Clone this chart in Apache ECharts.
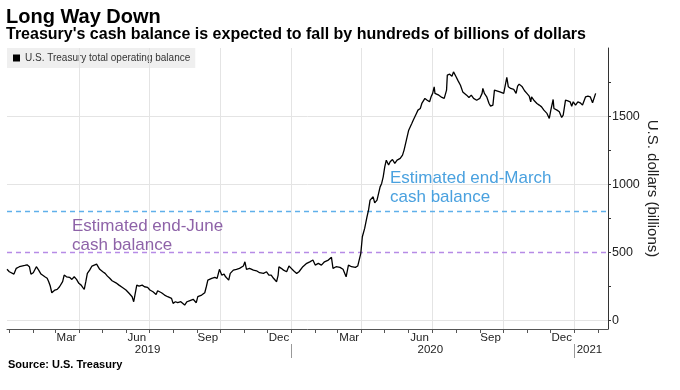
<!DOCTYPE html>
<html><head><meta charset="utf-8">
<script src="https://cdn.jsdelivr.net/npm/echarts@6/dist/echarts.min.js"></script>
<style>html,body{margin:0;padding:0;background:#fff}#c{width:680px;height:390px}</style>
</head><body><div id="c"></div>
<script>
// ---- data ----
const dates = [
'2018-12-29','2019-01-01','2019-01-03','2019-01-07','2019-01-10','2019-01-14','2019-01-17','2019-01-21','2019-01-24','2019-01-27',
'2019-01-29','2019-02-01','2019-02-03','2019-02-05','2019-02-08','2019-02-11','2019-02-13','2019-02-16','2019-02-19','2019-02-21',
'2019-02-23','2019-02-25','2019-03-01','2019-03-04','2019-03-07','2019-03-09','2019-03-11','2019-03-13','2019-03-16','2019-03-20',
'2019-03-23','2019-03-26','2019-03-29','2019-04-01','2019-04-04','2019-04-06','2019-04-08','2019-04-10','2019-04-12','2019-04-15',
'2019-04-18','2019-04-21','2019-04-24','2019-04-26','2019-04-28','2019-05-02','2019-05-05','2019-05-08','2019-05-11','2019-05-14',
'2019-05-19','2019-05-23','2019-05-27','2019-06-01','2019-06-05','2019-06-09','2019-06-11','2019-06-13','2019-06-15','2019-06-18',
'2019-06-22','2019-06-25','2019-06-29','2019-07-02','2019-07-06','2019-07-10','2019-07-12','2019-07-17','2019-07-21','2019-07-25',
'2019-07-30','2019-08-01','2019-08-04','2019-08-07','2019-08-11','2019-08-16','2019-08-19','2019-08-22','2019-08-27','2019-08-31',
'2019-09-02','2019-09-07','2019-09-11','2019-09-13','2019-09-15','2019-09-20','2019-09-24','2019-09-27','2019-09-30','2019-10-03',
'2019-10-06','2019-10-08','2019-10-12','2019-10-14','2019-10-18','2019-10-22','2019-10-26','2019-10-31','2019-11-02','2019-11-04',
'2019-11-08','2019-11-13','2019-11-17','2019-11-21','2019-11-26','2019-11-30','2019-12-03','2019-12-06','2019-12-09','2019-12-13',
'2019-12-15','2019-12-16','2019-12-19','2019-12-22','2019-12-26','2019-12-29','2020-01-01','2020-01-04','2020-01-08','2020-01-11',
'2020-01-16','2020-01-21','2020-01-25','2020-01-29','2020-02-01','2020-02-05','2020-02-09','2020-02-13','2020-02-18','2020-02-22',
'2020-02-24','2020-02-28','2020-03-04','2020-03-08','2020-03-12','2020-03-15','2020-03-19','2020-03-24','2020-03-27','2020-03-29',
'2020-03-31','2020-04-02','2020-04-05','2020-04-08','2020-04-10','2020-04-12','2020-04-14','2020-04-16','2020-04-18','2020-04-21',
'2020-04-25','2020-04-27','2020-04-29','2020-05-01','2020-05-03','2020-05-06','2020-05-08','2020-05-11','2020-05-14','2020-05-17',
'2020-05-21','2020-05-24','2020-05-26','2020-05-29','2020-06-01','2020-06-05','2020-06-07','2020-06-09','2020-06-11','2020-06-13',
'2020-06-16','2020-06-18','2020-06-20','2020-06-22','2020-06-25','2020-06-28','2020-06-30','2020-07-02','2020-07-04','2020-07-05',
'2020-07-10','2020-07-14','2020-07-17','2020-07-20','2020-07-21','2020-07-24','2020-07-27','2020-07-29','2020-08-01','2020-08-04',
'2020-08-07','2020-08-10','2020-08-15','2020-08-18','2020-08-21','2020-08-24','2020-08-28','2020-09-01','2020-09-04','2020-09-05',
'2020-09-07','2020-09-10','2020-09-13','2020-09-15','2020-09-18','2020-09-20','2020-09-23','2020-09-27','2020-09-29','2020-10-02',
'2020-10-04','2020-10-06','2020-10-08','2020-10-11','2020-10-15','2020-10-18','2020-10-20','2020-10-22','2020-10-26','2020-10-29',
'2020-11-01','2020-11-04','2020-11-06','2020-11-07','2020-11-10','2020-11-14','2020-11-17','2020-11-20','2020-11-23','2020-11-27',
'2020-11-30','2020-12-02','2020-12-05','2020-12-06','2020-12-10','2020-12-13','2020-12-16','2020-12-18','2020-12-21','2020-12-24',
'2020-12-27','2020-12-29','2020-12-31','2021-01-03','2021-01-06','2021-01-09','2021-01-12','2021-01-16','2021-01-19','2021-01-22',
'2021-01-25','2021-01-29'];
const values = [
376,358,351,341,383,395,400,405,409,395,
341,351,341,395,370,341,346,321,310,285,
253,204,224,229,248,244,285,334,321,317,
302,321,302,273,260,244,229,285,346,370,
400,407,414,407,376,358,346,326,310,292,
277,260,244,224,200,175,138,200,260,253,
260,248,244,224,211,192,219,204,187,175,
163,126,138,131,138,114,138,145,156,131,
175,187,204,248,297,310,317,310,376,334,
341,321,297,346,370,376,383,400,431,376,
383,370,365,351,346,358,334,334,310,285,
334,395,383,370,358,400,383,365,346,358,
395,420,431,444,407,420,407,431,444,464,
383,395,390,376,321,407,395,390,400,395,
493,615,676,761,811,884,871,908,864,884,
981,1006,1055,1128,1177,1141,1165,1182,1153,1177,
1190,1214,1251,1324,1397,1446,1471,1483,1520,1544,
1556,1593,1581,1630,1617,1605,1642,1667,1715,1667,
1654,1637,1630,1691,1801,1808,1793,1825,1793,1759,
1727,1678,1654,1637,1654,1630,1617,1630,1667,1703,
1667,1642,1593,1573,1581,1691,1686,1678,1667,1667,
1678,1784,1715,1703,1696,1667,1720,1735,1715,1686,
1667,1647,1605,1642,1617,1593,1581,1568,1544,1520,
1483,1544,1622,1556,1544,1532,1490,1507,1617,1612,
1605,1573,1605,1581,1605,1598,1581,1642,1647,1642,
1598,1667];
const seriesName = 'U.S. Treasury total operating balance';
const axisStart = '2018-12-29', axisEnd = '2021-02-14';
const monthTickDates = ['2019-01-01','2019-02-01','2019-03-01','2019-04-01','2019-05-01','2019-06-01','2019-07-01','2019-08-01','2019-09-01','2019-10-01','2019-11-01','2019-12-01',
  '2020-01-01','2020-02-01','2020-03-01','2020-04-01','2020-05-01','2020-06-01','2020-07-01','2020-08-01','2020-09-01','2020-10-01','2020-11-01','2020-12-01','2021-01-01','2021-02-01'];
const quarterDates = ['2019-04-01','2019-07-01','2019-10-01','2020-01-01','2020-04-01','2020-07-01','2020-10-01','2021-01-01'];
const monthLabelDates = ['2019-03-16','2019-06-15','2019-09-15','2019-12-16','2020-03-16','2020-06-15','2020-09-15','2020-12-16'];
const monthLabels = ['Mar','Jun','Sep','Dec','Mar','Jun','Sep','Dec'];
const yearLabelDates = ['2019-06-29','2020-06-29','2021-01-21'];
const yearLabels = ['2019','2020','2021'];
const yearBreakDates = ['2020-01-01','2021-01-01'];
const yTickValues = [0,250,500,750,1000,1250,1500,1750];
const yLabelValues = [0,500,1000,1500];
const yGridValues = [0,1000,1500];
const endMarchEstimate = 800;
const endJuneEstimate = 500;

// ---- helpers ----
const T = s => { const [y,m,d] = s.split('-').map(Number); return Date.UTC(y, m-1, d); };
const nearestLabel = (ts, list, labels) => {
  let bi = 0, bd = Infinity;
  list.forEach((t,i) => { const dd = Math.abs(t - ts); if (dd < bd) { bd = dd; bi = i; } });
  return bd < 86400000 * 3 ? labels[bi] : '';
};
const monthLabelTs = monthLabelDates.map(T);
const yearLabelTs = yearLabelDates.map(T);
const FONT = '"Liberation Sans", Arial, sans-serif';

const chart = echarts.init(document.getElementById('c'), null, {renderer:'canvas'});
chart.setOption({
  animation: false,
  backgroundColor: '#fff',
  textStyle: {fontFamily: FONT},
  title: [
    {text:'Long Way Down', left:6, top:7, padding:0, textStyle:{fontSize:20, fontWeight:'bold', color:'#000', fontFamily:FONT}},
    {text:"Treasury's cash balance is expected to fall by hundreds of billions of dollars", left:6, top:27, padding:0,
     textStyle:{fontSize:16, fontWeight:'bold', color:'#000', fontFamily:FONT}},
    {text:'Source: U.S. Treasury', left:8, top:359, padding:0, textStyle:{fontSize:11, fontWeight:'bold', color:'#000', fontFamily:FONT}}
  ],
  legend: {
    data:[seriesName], left:7, top:48, padding:[5,5,5,6], backgroundColor:'#efefef',
    itemWidth:7, itemHeight:7, icon:'rect', selectedMode:false,
    textStyle:{fontSize:10, color:'#333', fontFamily:FONT}
  },
  grid: {left:7, right:72, top:48, bottom:61, containLabel:false, outerBoundsMode:'none'},
  xAxis: [
    { type:'value', min:T(axisStart), max:T(axisEnd), scale:true,
      axisLine:{show:true, onZero:false, lineStyle:{color:'#555', width:1}},
      axisTick:{show:true, customValues:monthTickDates.map(T), length:4, lineStyle:{color:'#555'}},
      axisLabel:{customValues:monthLabelTs, formatter:v => nearestLabel(v, monthLabelTs, monthLabels),
        fontSize:11.5, color:'#222', margin:3, hideOverlap:false},
      splitLine:{show:false}, minorTick:{show:false}
    },
    { type:'value', min:T(axisStart), max:T(axisEnd), scale:true, position:'bottom', offset:15,
      axisLine:{show:false, onZero:false},
      axisTick:{show:true, customValues:yearBreakDates.map(T), length:14, lineStyle:{color:'#999'}},
      axisLabel:{customValues:yearLabelTs, formatter:v => nearestLabel(v, yearLabelTs, yearLabels),
        fontSize:11.5, color:'#222', margin:0, hideOverlap:false},
      splitLine:{show:false}
    }
  ],
  yAxis: {
    type:'value', position:'right', min:-62, max:2000,
    axisLine:{show:true, lineStyle:{color:'#333', width:1}},
    axisTick:{show:true, customValues:yTickValues, length:3, lineStyle:{color:'#333'}},
    axisLabel:{customValues:yLabelValues, formatter:v => String(Math.round(v)), fontSize:12.5, color:'#222', margin:4},
    splitLine:{show:false},
    name:'U.S. dollars (billions)', nameLocation:'middle', nameRotate:-90, nameGap:37, nameMoveOverlap:false,
    nameTextStyle:{fontSize:15, color:'#222', fontFamily:FONT}
  },
  graphic: [
    {type:'text', left:72, top:217, z:10, style:{text:'Estimated end-June\ncash balance', fill:'#8e63a8', fontSize:17, fontFamily:FONT, lineHeight:18.6}},
    {type:'text', left:390, top:169, z:10, style:{text:'Estimated end-March\ncash balance', fill:'#4aa1df', fontSize:17, fontFamily:FONT, lineHeight:18.6}}
  ],
  series: [
    { name:'grid', type:'line', data:[], z:1, silent:true, symbol:'none',
      markLine:{ silent:true, symbol:'none', label:{show:false}, animation:false,
        data:[
          ...quarterDates.map(d => ({xAxis:T(d), lineStyle:{color:'#e4e4e4', width:1, type:'solid'}})),
          ...yGridValues.map(v => ({yAxis:v, lineStyle:{color:'#e4e4e4', width:1, type:'solid'}})),
          {yAxis:endMarchEstimate, lineStyle:{color:'#5fb0ea', width:1.3, type:[5,4]}},
          {yAxis:endJuneEstimate, lineStyle:{color:'#b68be6', width:1.3, type:[5,4]}}
        ]}
    },
    { name:seriesName, type:'line', z:5, symbol:'none', showSymbol:false,
      data: dates.map((d,i) => [T(d), values[i]]),
      lineStyle:{color:'#000', width:1.3}, itemStyle:{color:'#000'}
    }
  ]
});
</script>
</body></html>
